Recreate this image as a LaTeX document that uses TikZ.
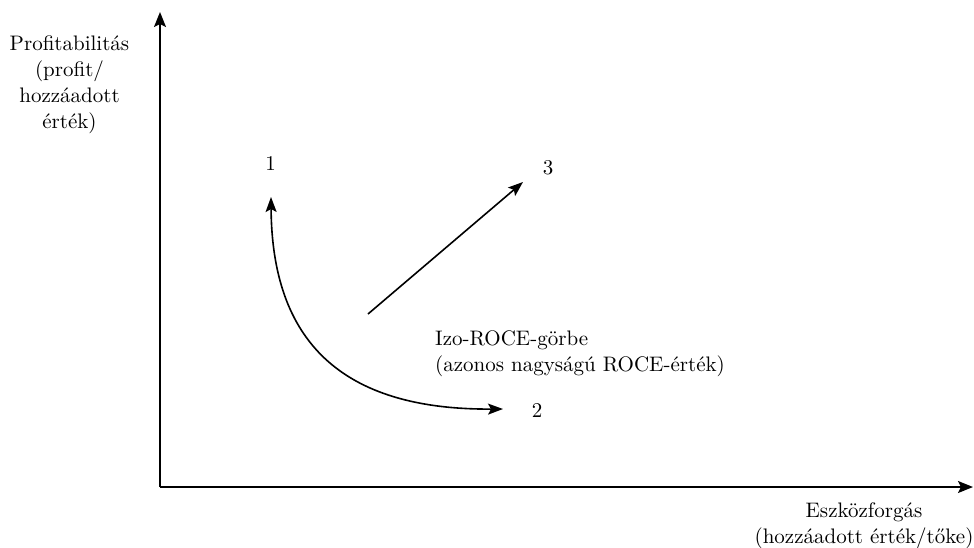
\documentclass[tikz,border=0pt]{standalone}
\usepackage{fontspec}
\setmainfont{lmroman10-regular.otf}
\usetikzlibrary{arrows.meta}
\tikzset{
  lbl/.style={inner sep=0pt, font=\fontsize{21}{26}\selectfont},
  axis/.style={line width=1.6pt, -{Stealth[length=15pt,width=12pt,inset=3pt]}},
  arr/.style={line width=1.6pt, -{Stealth[length=15pt,width=11pt,inset=3pt]}},
}
\begin{document}
\begin{tikzpicture}[x=1pt,y=-1pt]
\path[use as bounding box] (0,0) rectangle (974,547);
\coordinate (O) at (160,487);
\coordinate (ytip) at (160,12);
\coordinate (xtip) at (973,487);
\draw[axis] (O) -- (ytip);
\draw[axis] (O) -- (xtip);
\node[lbl, align=center] (ylab) at (69.5,85) {Profitabilitás\\(profit/\\hozzáadott\\érték)};
\node[lbl, align=center, anchor=base] (xlab) at (864,543) {Eszközforgás\\(hozzáadott érték/tőke)};
\node[lbl] (n1) at (270.5,164) {1};
\node[lbl] (n2) at (537,410) {2};
\node[lbl] (n3) at (548,168) {3};
\coordinate (ctop) at (271,197);
\coordinate (cbot) at (503,409);
\draw[arr, {Stealth[length=15pt,width=11pt,inset=3pt]}-{Stealth[length=15pt,width=11pt,inset=3pt]}]
  (ctop) .. controls (272,340) and (340,410) .. (cbot);
\coordinate (s0) at (368,314);
\coordinate (s1) at (523,182);
\draw[arr] (s0) -- (s1);
\node[lbl, align=left, anchor=base west] (iso) at (435,371) {Izo-ROCE-görbe\\(azonos nagyságú ROCE-érték)};
\end{tikzpicture}
\end{document}
